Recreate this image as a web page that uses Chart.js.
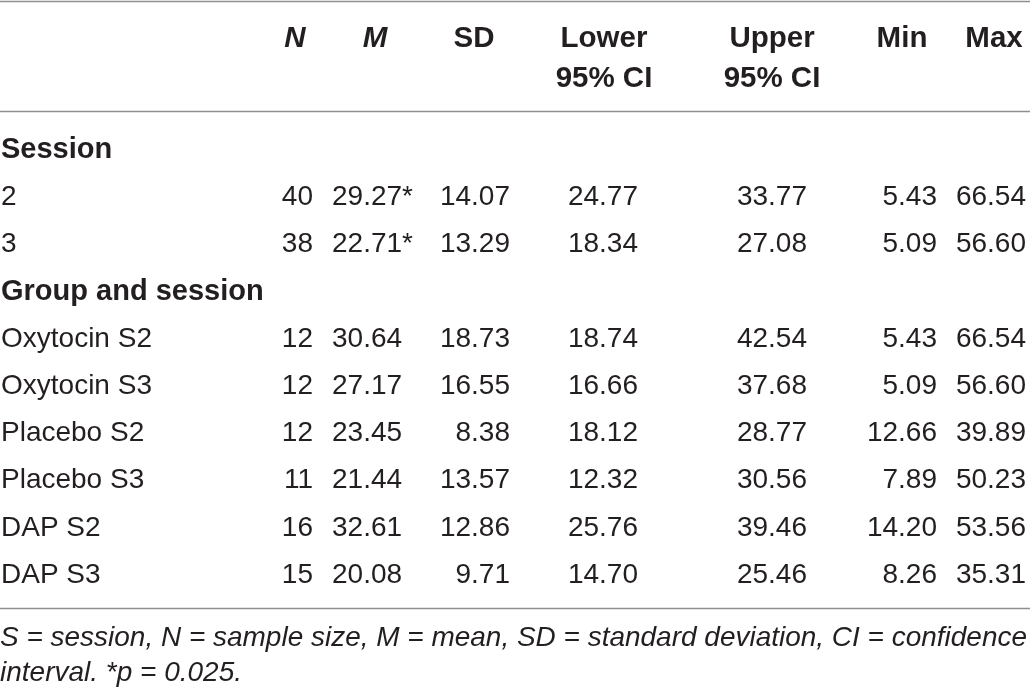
<!DOCTYPE html>
<html>
<head>
<title>Descriptive statistics by session and group</title>
<script src="https://cdn.jsdelivr.net/npm/chart.js"></script>
<style>
    body {
        margin: 0;
        background: #ffffff;
    }

    #table-chart {
        display: block;
    }
</style>
</head>
<body>
<canvas id="table-chart" width="1030" height="689"></canvas>
<script>
    // table content
    const rowLabels = ['Session', '2', '3', 'Group and session', 'Oxytocin S2', 'Oxytocin S3',
        'Placebo S2', 'Placebo S3', 'DAP S2', 'DAP S3'];
    const sectionRows = ['Session', 'Group and session'];
    const columnHeads = [['N'], ['M'], ['SD'], ['Lower', '95% CI'], ['Upper', '95% CI'], ['Min'], ['Max']];
    const italicHeads = ['N', 'M'];

    const nValues = [null, 40, 38, null, 12, 12, 12, 11, 16, 15];
    const meanValues = [null, 29.27, 22.71, null, 30.64, 27.17, 23.45, 21.44, 32.61, 20.08];
    const meanMarks = ['', '*', '*', '', '', '', '', '', '', ''];
    const sdValues = [null, 14.07, 13.29, null, 18.73, 16.55, 8.38, 13.57, 12.86, 9.71];
    const lowerCI = [null, 24.77, 18.34, null, 18.74, 16.66, 18.12, 12.32, 25.76, 14.70];
    const upperCI = [null, 33.77, 27.08, null, 42.54, 37.68, 28.77, 30.56, 39.46, 25.46];
    const minValues = [null, 5.43, 5.09, null, 5.43, 5.09, 12.66, 7.89, 14.20, 8.26];
    const maxValues = [null, 66.54, 56.60, null, 66.54, 56.60, 39.89, 50.23, 53.56, 35.31];

    const footnoteLines = ['S = session, N = sample size, M = mean, SD = standard deviation, CI = confidence',
        'interval. *p = 0.025.'];

    // layout (table units = px across the page)
    const colHeadX = [295, 375, 474, 604, 772, 902, 994];
    const colEdgeX = [313, 332, 510, 638, 807, 937, 1026];
    const colAlign = ['right', 'left', 'right', 'right', 'right', 'right', 'right'];
    const headBaseY = [47, 87];
    const ruleY = [1, 111, 608];
    const footBaseY = [646, 681];

    const FONT = '"Liberation Sans", Arial, Helvetica, sans-serif';
    const INK = '#231f20';
    const RULE = '#8f8f8f';

    function cellText(col, i) {
        if (col === 0) return String(nValues[i]);
        if (col === 1) return meanValues[i].toFixed(2) + meanMarks[i];
        const src = [null, null, sdValues, lowerCI, upperCI, minValues, maxValues][col];
        return src[i].toFixed(2);
    }

    const columnSeries = [nValues, meanValues, sdValues, lowerCI, upperCI, minValues, maxValues];

    const datasets = [{
        label: 'rows',
        data: rowLabels.map(r => ({ x: 0, y: r })),
        texts: rowLabels.slice(),
        align: 'left',
        pointRadius: 0
    }];

    columnSeries.forEach((series, c) => {
        const data = [];
        const texts = [];
        series.forEach((v, i) => {
            if (v === null) return;
            data.push({ x: colEdgeX[c], y: rowLabels[i] });
            texts.push(cellText(c, i));
        });
        datasets.push({
            label: columnHeads[c].join(' '),
            data: data,
            texts: texts,
            align: colAlign[c],
            pointRadius: 0
        });
    });

    // draws rules, header, cell text and footnote
    const tablePlugin = {
        id: 'tableText',
        afterDatasetsDraw(chart) {
            const ctx = chart.ctx;
            const xs = chart.scales.x;
            ctx.save();

            ctx.strokeStyle = RULE;
            ctx.lineWidth = 1.5;
            ruleY.forEach(y => {
                ctx.beginPath();
                ctx.moveTo(0, y + 0.5);
                ctx.lineTo(chart.width, y + 0.5);
                ctx.stroke();
            });

            ctx.fillStyle = INK;
            ctx.textBaseline = 'alphabetic';

            columnHeads.forEach((lines, c) => {
                const italic = italicHeads.includes(lines[0]) ? 'italic ' : '';
                ctx.font = italic + 'bold 29.5px ' + FONT;
                ctx.textAlign = 'center';
                lines.forEach((t, k) => {
                    ctx.fillText(t, xs.getPixelForValue(colHeadX[c]), headBaseY[k]);
                });
            });

            chart.data.datasets.forEach((ds, d) => {
                const meta = chart.getDatasetMeta(d);
                ctx.textAlign = ds.align;
                meta.data.forEach((pt, i) => {
                    const t = ds.texts[i];
                    const bold = d === 0 && sectionRows.includes(t);
                    ctx.font = bold ? 'bold 29px ' + FONT : '28px ' + FONT;
                    ctx.fillText(t, pt.x + (d === 0 ? 1 : 0), pt.y + 10);
                });
            });

            ctx.font = 'italic 28px ' + FONT;
            ctx.textAlign = 'left';
            footnoteLines.forEach((t, k) => {
                ctx.fillText(t, 0, footBaseY[k], 1027);
            });

            ctx.restore();
        }
    };

    new Chart(document.getElementById('table-chart'), {
        type: 'scatter',
        data: { datasets: datasets },
        options: {
            responsive: false,
            animation: false,
            layout: { padding: { top: 124.4, bottom: 92.6, left: 0, right: 0 } },
            plugins: {
                legend: { display: false },
                tooltip: { enabled: false }
            },
            scales: {
                x: { type: 'linear', min: 0, max: 1030, display: false },
                y: { type: 'category', labels: rowLabels, offset: true, display: false }
            }
        },
        plugins: [tablePlugin]
    });
</script>
</body>
</html>
